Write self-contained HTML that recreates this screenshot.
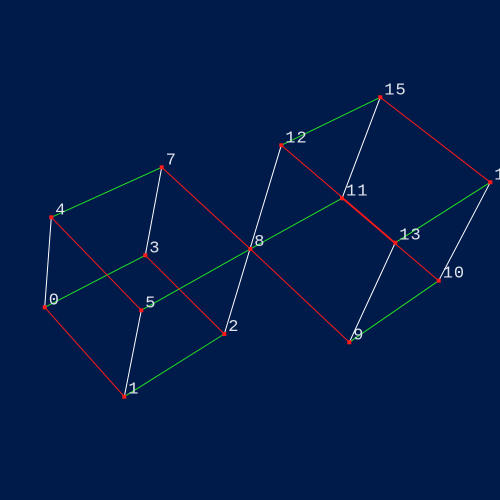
<!DOCTYPE html>
<html><head><meta charset="utf-8"><style>
html,body{margin:0;padding:0;background:#001a4a;}
svg{display:block;}
text{font-family:"Liberation Mono","DejaVu Sans Mono",monospace;font-size:17px;letter-spacing:1px;fill:#dfe3ec;}
</style></head><body>
<svg id="chart" width="500" height="500" viewBox="0 0 500 500">
<rect width="500" height="500" fill="#001a4a"/>
<g id="edges"></g>
<g id="nodes"></g>
</svg>
<script>
const nodeIds = [0,1,2,3,4,5,7,8,9,10,11,12,13,15,16];
const nodeX = [44.7,124.3,224.3,145.3,51.3,141.3,161.7,250.3,349.3,438.7,342,281.3,395.3,380.3,490.3];
const nodeY = [307.3,396.7,334,255.3,217.3,310.3,167.3,249,342.3,280.7,198.3,145.3,242.7,97.3,182.3];
const greenEdges = [[4,7],[0,3],[5,8],[1,2],[8,11],[12,15],[13,16],[9,10]];
const whiteEdges = [[0,4],[3,7],[1,5],[2,12],[11,15],[9,13],[10,16]];
const redEdges = [[0,1],[4,5],[3,2],[7,8],[8,9],[12,13],[11,10],[15,16]];

const NS = "http://www.w3.org/2000/svg";
const eg = document.getElementById('edges');
const ng = document.getElementById('nodes');
function px(id){return nodeX[nodeIds.indexOf(id)];}
function py(id){return nodeY[nodeIds.indexOf(id)];}
function drawEdges(list, color, name){
  list.forEach(function(e){
    const l = document.createElementNS(NS,'line');
    l.setAttribute('x1',px(e[0]));l.setAttribute('y1',py(e[0]));
    l.setAttribute('x2',px(e[1]));l.setAttribute('y2',py(e[1]));
    l.setAttribute('stroke',color);l.setAttribute('stroke-width','1');
    
    
    eg.appendChild(l);
  });
}
drawEdges(greenEdges,'#22e022','green-edge');
drawEdges(whiteEdges,'#ffffff','white-edge');
drawEdges(redEdges,'#ff1a1a','red-edge');
nodeIds.forEach(function(id,i){
  const r = document.createElementNS(NS,'rect');
  r.setAttribute('x',nodeX[i]-2);r.setAttribute('y',nodeY[i]-2);
  r.setAttribute('width',4);r.setAttribute('height',4);
  r.setAttribute('fill','#ff1a1a');
  
  
  ng.appendChild(r);
  const t = document.createElementNS(NS,'text');
  t.setAttribute('x',nodeX[i]+4);t.setAttribute('y',nodeY[i]-3);
  t.textContent = String(id);
  
  
  ng.appendChild(t);
});
</script>
</body></html>
